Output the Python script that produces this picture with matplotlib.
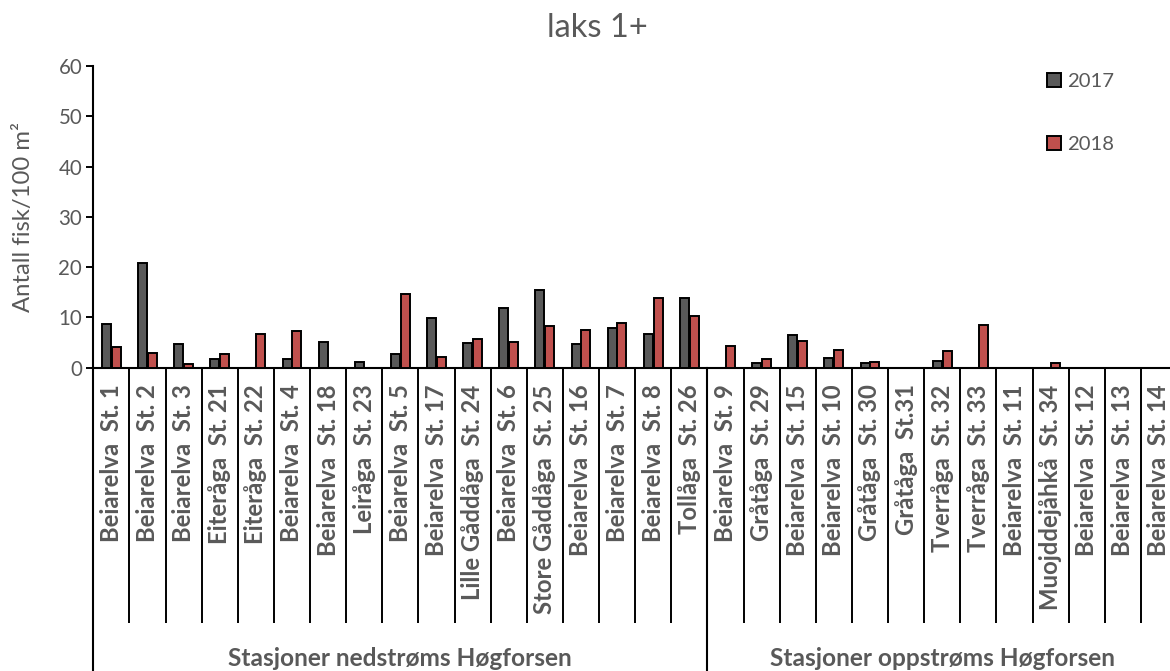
import matplotlib
matplotlib.use("Agg")
import matplotlib.pyplot as plt
from matplotlib.transforms import blended_transform_factory
import numpy as np

plt.rcParams['font.family'] = ['Lato', 'DejaVu Sans']

stations = [
    "Beiarelva  St. 1", "Beiarelva  St. 2", "Beiarelva  St. 3", "Eiteråga  St. 21",
    "Eiteråga  St. 22", "Beiarelva  St. 4", "Beiarelva  St. 18", "Leiråga  St. 23",
    "Beiarelva  St. 5", "Beiarelva  St. 17", "Lille Gåddåga  St. 24", "Beiarelva  St. 6",
    "Store Gåddåga  St. 25", "Beiarelva  St. 16", "Beiarelva  St. 7", "Beiarelva  St. 8",
    "Tollåga  St. 26",
    "Beiarelva  St. 9", "Gråtåga  St. 29", "Beiarelva  St. 15", "Beiarelva  St. 10",
    "Gråtåga  St. 30", "Gråtåga  St.31", "Tverråga  St. 32", "Tverråga  St. 33",
    "Beiarelva  St. 11", "Muojddejåhkå  St. 34", "Beiarelva  St. 12", "Beiarelva  St. 13",
    "Beiarelva  St. 14",
]
values_2017 = [8.6, 20.8, 4.8, 1.8, 0, 1.8, 5.2, 1.1, 2.7, 9.9, 5.0, 11.8, 15.4, 4.7, 7.9, 6.8, 13.8,
               0, 1.0, 6.5, 2.0, 0.85, 0, 1.25, 0, 0, 0, 0, 0, 0]
values_2018 = [4.2, 3.0, 0.7, 2.7, 6.8, 7.2, 0, 0, 14.6, 2.2, 5.7, 5.1, 8.2, 7.5, 8.9, 13.8, 10.2,
               4.4, 1.8, 5.4, 3.6, 1.2, 0, 3.4, 8.5, 0, 0.9, 0, 0, 0]
groups = ["Stasjoner nedstrøms Høgforsen", "Stasjoner oppstrøms Høgforsen"]
group_sizes = [17, 13]
series_labels = ["2017", "2018"]
title = "laks 1+"
ylabel = "Antall fisk/100 m²"

c17 = "#595959"
c18 = "#C0504D"
txt = "#595959"

W, H = 1170, 671
x0, x1, ytop, ybase = 93.3, 1177.0, 66.0, 367.7
fig = plt.figure(figsize=(W / 100, H / 100), dpi=100)
ax = fig.add_axes([x0 / W, 1 - ybase / H, (x1 - x0) / W, (ybase - ytop) / H])

def ax_y(py):
    return (ybase - py) / (ybase - ytop)

x = np.arange(len(stations))
bw = 0.25
off = 0.135
ax.bar(x - off, values_2017, bw, color=c17, edgecolor="black", linewidth=1.4, label=series_labels[0], zorder=3)
ax.bar(x + off, values_2018, bw, color=c18, edgecolor="black", linewidth=1.4, label=series_labels[1], zorder=3)

ax.set_xlim(-0.5, len(stations) - 0.5)
ax.set_ylim(0, 60)
ax.set_yticks(np.arange(0, 61, 10))
ax.tick_params(axis='y', length=5, width=1.4, colors='black', labelcolor=txt, labelsize=14.8, pad=3)

ax.set_xticks(x)
ax.set_xticklabels(stations, rotation=90, fontweight='bold', fontsize=17.2, color=txt, va='top', ha='center')
ax.tick_params(axis='x', which='major', length=0, pad=12)
ax.set_xticks(np.arange(-0.5, len(stations) + 0.5, 1), minor=True)
ax.tick_params(axis='x', which='minor', length=(623 - ybase) * 0.72, width=1.4, color='black')

for s in ['top', 'right']:
    ax.spines[s].set_visible(False)
ax.spines['left'].set_linewidth(1.5)
ax.spines['bottom'].set_linewidth(1.5)

# group separators and labels
tr = blended_transform_factory(ax.transData, ax.transAxes)
start = -0.5
for g, n in zip(groups, group_sizes):
    ax.plot([start, start], [0, ax_y(H)], transform=tr, color='black', lw=1.5, clip_on=False)
    ax.text(start + n / 2, ax_y(666.5), g, transform=tr, ha='center', va='baseline',
            fontsize=17.6, fontweight='bold', color=txt)
    start += n

ax.set_ylabel(ylabel, fontsize=17.2, color=txt)
ax.yaxis.label.set_va('center')
ax.yaxis.set_label_coords((24 - x0) / (x1 - x0), ax_y(217))

fig.text(597 / W, 1 - 37.3 / H, title, ha='center', va='baseline', fontsize=23.5, color=txt)

fs_leg = 14.6
em = fs_leg * 100 / 72
leg = ax.legend(loc='upper left', bbox_to_anchor=(1047 / W, 1 - 73 / H), bbox_transform=fig.transFigure,
                frameon=False, fontsize=fs_leg, labelspacing=2.25, handlelength=14 / em, handleheight=14 / em,
                handletextpad=6 / em, borderpad=0, borderaxespad=0, labelcolor=txt)
for h in leg.legend_handles:
    h.set_linewidth(1.4)

fig.savefig("out.png", dpi=100)
